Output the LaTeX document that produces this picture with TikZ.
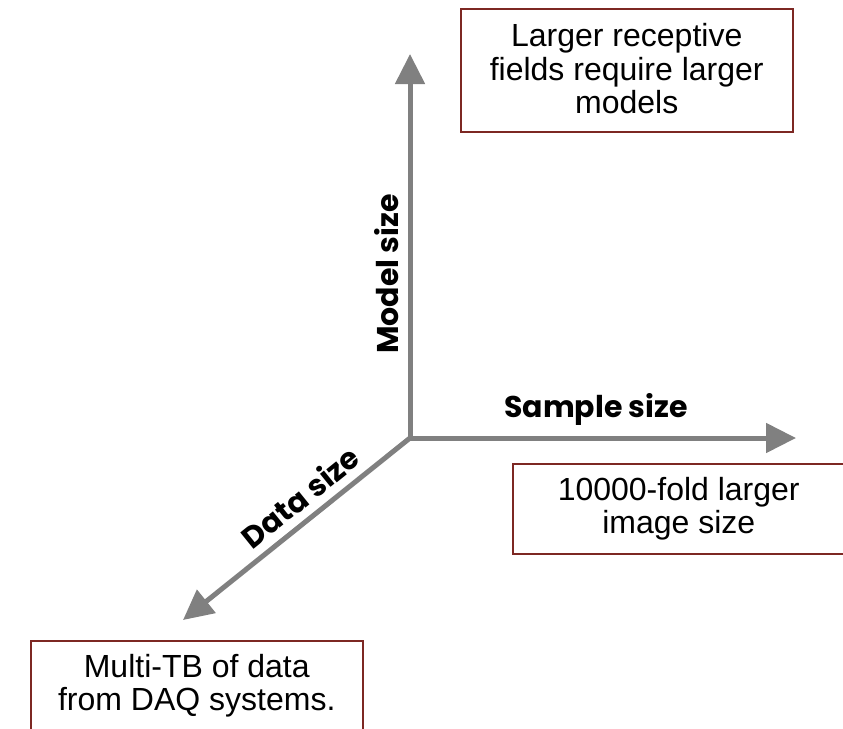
\documentclass[tikz,border=0pt]{standalone}
\usepackage{fontspec}
\setmainfont{Liberation Sans}
\newfontfamily\axisfont{Poppins}[UprightFont=* Bold]
\usetikzlibrary{arrows.meta}
\definecolor{axisgray}{RGB}{128,128,128}
\definecolor{boxred}{RGB}{125,40,35}
\begin{document}
\begin{tikzpicture}[x=1pt,y=-1pt,
  axis/.style={draw=axisgray,line width=5pt,-{Triangle[length=30pt,width=29pt]}},
  notebox/.style={draw=boxred,line width=1.5pt,anchor=north west,
    minimum width=332pt,inner sep=0pt,align=center,
    font=\fontsize{32pt}{33.5pt}\selectfont},
  axislabel/.style={font=\axisfont\fontsize{30pt}{32pt}\selectfont,inner sep=0pt}]
  \useasboundingbox (0,0) rectangle (843,728);
  \clip (0,0) rectangle (843,728);
  % axes
  \coordinate (O) at (410,438);
  \coordinate (up) at (410,54);
  \coordinate (right) at (796,438);
  \coordinate (down) at (183,620);
  \draw[axis] (O) -- (up);
  \draw[axis] (O) -- (right);
  \draw[axis] (O) -- (down);
  % axis labels
  \node[axislabel,rotate=90] (model) at (387,274) {Model size};
  \node[axislabel,anchor=base] (sample) at (596,417) {Sample size};
  \node[axislabel,rotate=38.9] (data) at (300,497) {Data size};
  % annotation boxes
  \node[notebox,minimum height=123pt,text depth=3pt] (fields) at (460,8)
    {Larger receptive\\fields require larger\\models};
  \node[notebox,minimum height=90pt] (image) at (512,463)
    {10000-fold larger\\image size};
  \node[notebox,minimum height=90pt] (daq) at (30,640)
    {Multi-TB of data\\from DAQ systems.};
\end{tikzpicture}
\end{document}
